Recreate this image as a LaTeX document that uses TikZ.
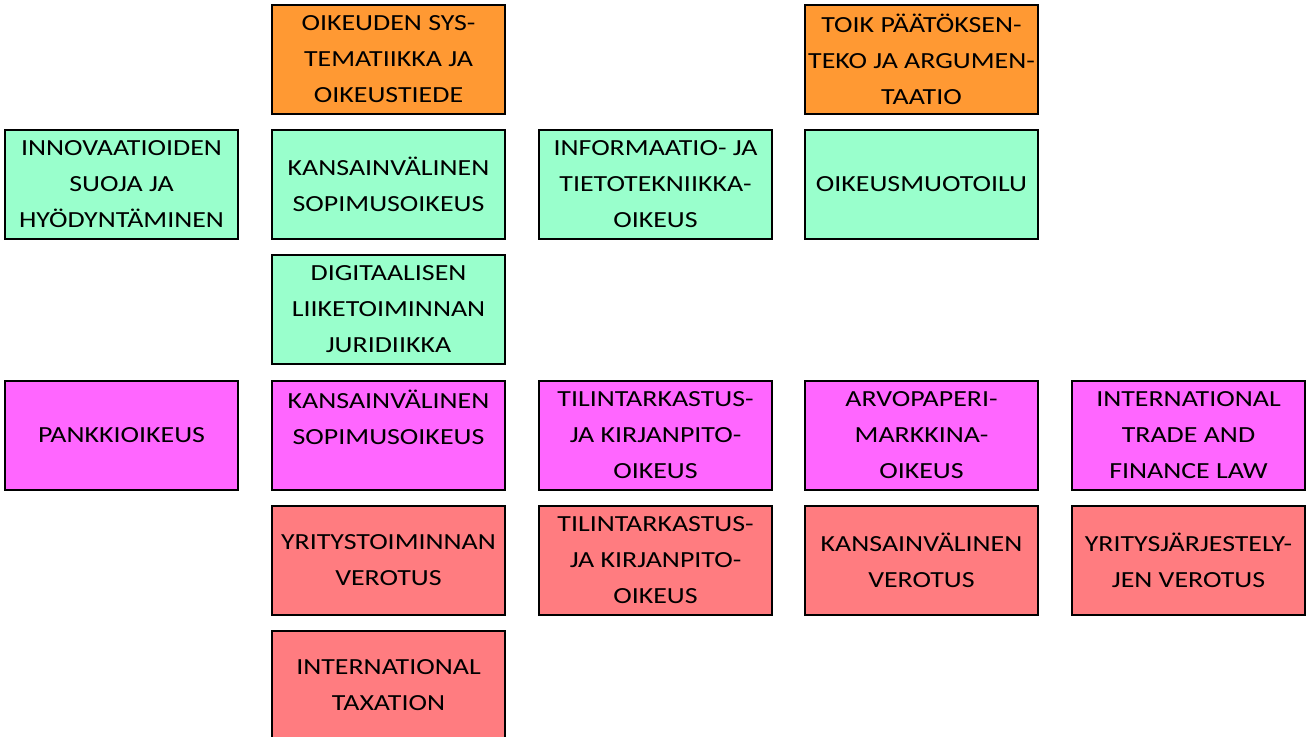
\documentclass[tikz,border=0pt]{standalone}
\usepackage{fontspec}
\setmainfont{Carlito}[FakeStretch=1.21]
\definecolor{corange}{HTML}{FF9933}
\definecolor{cgreen}{HTML}{99FFCC}
\definecolor{cmagenta}{HTML}{FF66FF}
\definecolor{cred}{HTML}{FF7C80}
\tikzset{
  box/.style={draw=black, line width=1.5pt, minimum width=174.75pt, minimum height=81.75pt,
    align=center, inner sep=0pt, font=\fontsize{17.3pt}{27pt}\selectfont},
  orangebox/.style={box, fill=corange},
  greenbox/.style={box, fill=cgreen},
  magbox/.style={box, fill=cmagenta},
  redbox/.style={box, fill=cred},
}
\begin{document}
\begin{tikzpicture}[x=0.75pt,y=-0.75pt]
\useasboundingbox (0,0) rectangle (1307,736);
\clip (0,0) rectangle (1307,736);
% rows
\node[orangebox] (o1) at (388.5,59.5) {OIKEUDEN SYS-\\TEMATIIKKA JA\\OIKEUSTIEDE};
\node[orangebox] (o3) at (921.5,59.5) {TOIK PÄÄTÖKSEN-\\TEKO JA ARGUMEN-\\TAATIO};
\node[greenbox] (g0) at (121.5,184.5) {INNOVAATIOIDEN\\SUOJA JA\\HYÖDYNTÄMINEN};
\node[greenbox] (g1) at (388.5,184.5) {KANSAINVÄLINEN\\SOPIMUSOIKEUS};
\node[greenbox] (g2) at (655.5,184.5) {INFORMAATIO- JA\\TIETOTEKNIIKKA-\\OIKEUS};
\node[greenbox] (g3) at (921.5,184.5) {OIKEUSMUOTOILU};
\node[greenbox] (g4) at (388.5,309.5) {DIGITAALISEN\\LIIKETOIMINNAN\\JURIDIIKKA};
\node[magbox] (m0) at (121.5,435.5) {PANKKIOIKEUS};
\node[magbox] (m1) at (388.5,435.5) {KANSAINVÄLINEN\\SOPIMUSOIKEUS\\\mbox{}};
\node[magbox] (m2) at (655.5,435.5) {TILINTARKASTUS-\\JA KIRJANPITO-\\OIKEUS};
\node[magbox] (m3) at (921.5,435.5) {ARVOPAPERI-\\MARKKINA-\\OIKEUS};
\node[magbox] (m4) at (1188.5,435.5) {INTERNATIONAL\\TRADE AND\\FINANCE LAW};
\node[redbox] (r1) at (388.5,560.5) {YRITYSTOIMINNAN\\VEROTUS};
\node[redbox] (r2) at (655.5,560.5) {TILINTARKASTUS-\\JA KIRJANPITO-\\OIKEUS};
\node[redbox] (r3) at (921.5,560.5) {KANSAINVÄLINEN\\VEROTUS};
\node[redbox] (r4) at (1188.5,560.5) {YRITYSJÄRJESTELY-\\JEN VEROTUS};
\node[redbox] (r5) at (388.5,685.5) {INTERNATIONAL\\TAXATION};
\end{tikzpicture}
\end{document}
